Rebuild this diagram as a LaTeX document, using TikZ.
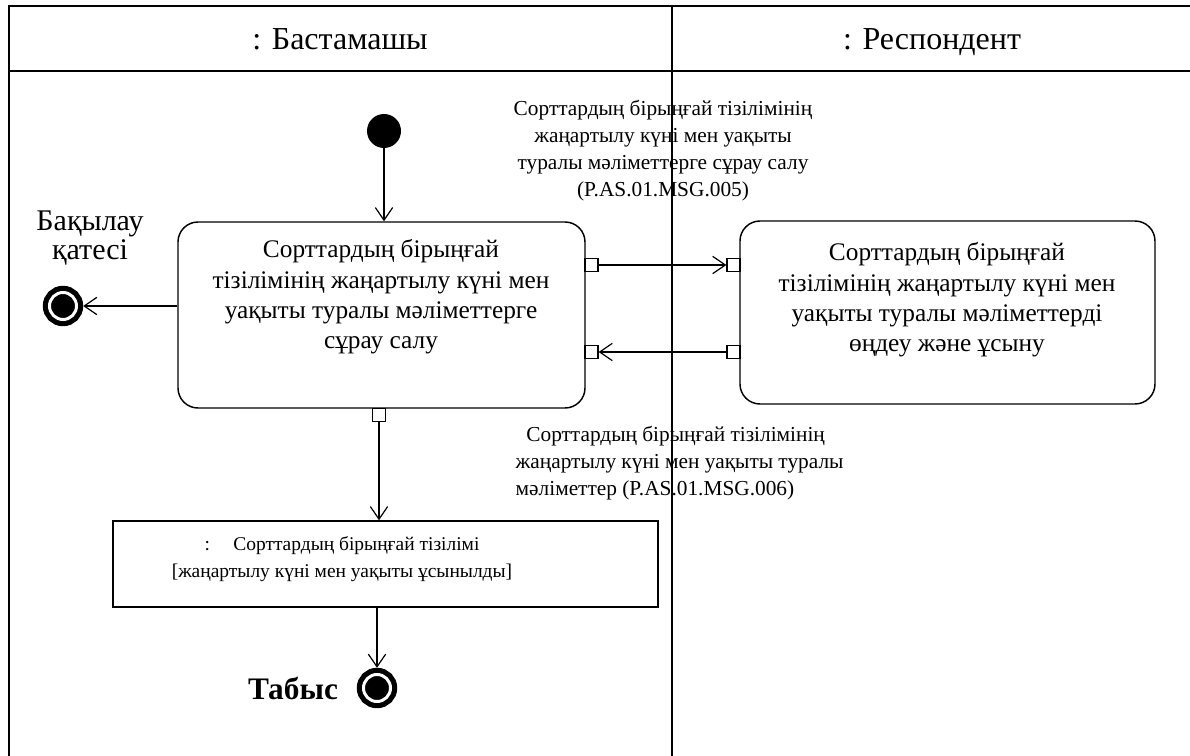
\documentclass[tikz,border=0pt]{standalone}
\usepackage{fontspec}
\setmainfont{Liberation Serif}
\usetikzlibrary{arrows.meta,calc}
\tikzset{
  lane/.style={line width=1.1pt},
  nd_init/.style={circle,fill=black,minimum size=25.5pt,inner sep=0pt},
  nd_final/.style={circle,fill=black,draw=black,double=white,double distance=2.25pt,line width=3.9pt,minimum size=20.25pt,inner sep=0pt,outer sep=5pt},
  nd_action/.style={rectangle,rounded corners=15pt,draw,line width=1.1pt},
  nd_pin/.style={rectangle,draw,fill=white,line width=0.9pt,minimum size=9.75pt,inner sep=0pt},
  nd_obj/.style={rectangle,draw,line width=1.1pt,minimum width=408.75pt,minimum height=64.5pt},
  txt_act/.style={align=center,font=\fontsize{19}{22.75}\selectfont},
  txt_msg/.style={font=\fontsize{16}{20.25}\selectfont},
  txt_hdr/.style={font=\fontsize{24}{28}\selectfont,anchor=base},
  arr/.style={-{Straight Barb[length=9.5pt,width=13pt]},line width=0.9pt},
}

\begin{document}
\begin{tikzpicture}[x=0.75pt,y=-0.75pt]
\useasboundingbox (0,0) rectangle (1190,756);
% swimlanes
\draw[lane] (9,756) -- (9,6) -- (1190,6);
\draw[lane] (672,6) -- (672,756);
\draw[line width=2pt] (9,71) -- (1190,71);
\node[txt_hdr] at (340,50)(H1){: Бастамашы};
\node[txt_hdr] at (932,50)(H2){: Респондент};
% Initiator
\node[nd_init] at (384,131)(S){};
\node[nd_action,minimum width=305.25pt,minimum height=139.5pt] at (381.5,315)(A1){};
\node[txt_act] at (381,297)(A1t){Сорттардың бірыңғай\\тізілімінің жаңартылу күні мен\\уақыты туралы мәліметтерге\\сұрау салу};
\node[nd_pin] at (591.5,265)(P1){};
\node[nd_pin] at (591.5,352)(P2){};
\node[nd_pin] at (379,415)(P5){};
\node[nd_final] at (63,306)(F1){};
\node[font=\fontsize{22.5}{21.5}\selectfont,align=center] at (90,238)(F1l){Бақылау\\қатесі};
\node[nd_obj] at (385.5,564)(O1){};
\node[align=center,font=\fontsize{14.6}{20.25}\selectfont] at (342,559)(O1t){:\hspace{1.2em}Сорттардың бірыңғай тізілімі\\{}[жаңартылу күні мен уақыты ұсынылды]};
\node[nd_final] at (377,688)(F2){};
\node[font=\fontsize{23.5}{26}\selectfont\bfseries] at (293,688)(F2l){Табыс};
% Respondent
\node[nd_action,minimum width=311.25pt,minimum height=137.25pt] at (947.5,312.5)(R1){};
\node[txt_act] at (947,300)(R1t){Сорттардың бірыңғай\\тізілімінің жаңартылу күні мен\\уақыты туралы мәліметтерді\\өңдеу және ұсыну};
\node[nd_pin] at (733.5,265)(P3){};
\node[nd_pin] at (733.5,352)(P4){};
% messages
\node[txt_msg,align=center] at (663,151)(M1){Сорттардың бірыңғай тізілімінің\\жаңартылу күні мен уақыты\\туралы мәліметтерге сұрау салу\\(P.AS.01.MSG.005)};
\node[txt_msg,align=left,anchor=west] at (511,463)(M2){\hspace{0.5em}Сорттардың бірыңғай тізілімінің\\жаңартылу күні мен уақыты туралы\\мәліметтер (P.AS.01.MSG.006)};
% arrows
\draw[arr](S)--(S |- A1.north);
\draw[arr](A1.west |- F1)--(F1);
\draw[arr](P1)--(P3);
\draw[arr](P4)--(P2);
\draw[arr](P5)--(P5 |- O1.north);
\draw[arr](O1.south -| F2)--(F2);
\end{tikzpicture}
\end{document}
